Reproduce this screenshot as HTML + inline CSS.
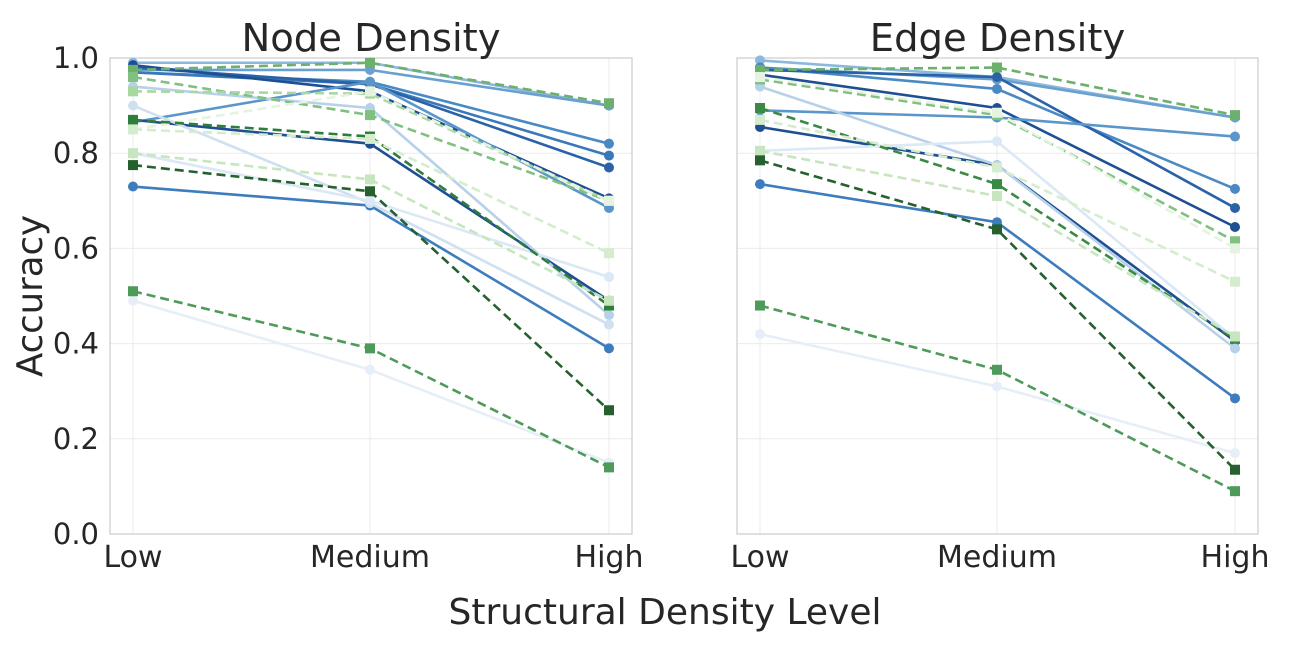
<!DOCTYPE html>
<html><head><meta charset="utf-8"><style>
body{margin:0;background:#fff;}
svg text{font-family:"DejaVu Sans","Liberation Sans",sans-serif;fill:#262626;}
</style></head><body>
<svg id="s" width="1292" height="656" xmlns="http://www.w3.org/2000/svg"></svg>
<script>
const S=document.getElementById('s');
let h='';
const Y=v=>534-476*v;
const panels=[{x0:110,x1:632,xs:[133,370,609],title:'Node Density'},{x0:737,x1:1258,xs:[760,997,1235],title:'Edge Density'}];
const L=[
 ['#8cb8de',[0.99,0.99,0.90]],['#6aa0cf',[0.975,0.975,0.90]],['#4a8ac4',[0.97,0.95,0.82]],
 ['#3a78b9',[0.97,0.945,0.795]],['#2a62a8',[0.98,0.945,0.77]],['#1f4f93',[0.985,0.93,0.705]],
 ['#5b96cb',[0.865,0.95,0.685]],['#1f4f93',[0.87,0.82,0.49]],['#3d7cbd',[0.73,0.69,0.39]],
 ['#b7d1ea',[0.94,0.895,0.46]],['#cfe0f1',[0.90,0.695,0.44]],['#dbe8f5',[0.80,0.70,0.54]],
 ['#e6eff8',[0.49,0.345,0.15]]
];
const G=[
 ['#6bb06b',[0.975,0.99,0.905]],['#80c080',[0.96,0.88,0.70]],['#a8d8a0',[0.93,0.925,0.70]],
 ['#e5f3e0',[0.85,0.93,0.70]],['#2e7d3a',[0.87,0.835,0.48]],['#c7e6bf',[0.80,0.745,0.49]],
 ['#d5ecce',[0.85,0.83,0.59]],['#25602e',[0.775,0.72,0.26]],['#4e9a5a',[0.51,0.39,0.14]]
];
const L2=[
 ['#8cb8de',[0.995,0.96,0.875]],['#6aa0cf',[0.98,0.955,0.875]],['#4a8ac4',[0.98,0.935,0.725]],
 ['#2a62a8',[0.975,0.96,0.685]],['#1f4f93',[0.965,0.895,0.645]],['#5b96cb',[0.89,0.875,0.835]],
 ['#1f4f93',[0.855,0.775,0.405]],['#3d7cbd',[0.735,0.655,0.285]],['#b7d1ea',[0.94,0.775,0.39]],
 ['#dbe8f5',[0.805,0.825,0.41]],['#e6eff8',[0.42,0.31,0.17]]
];
const G2=[
 ['#6bb06b',[0.975,0.98,0.88]],['#80c080',[0.955,0.88,0.615]],['#e5f3e0',[0.96,0.885,0.60]],
 ['#3a8a45',[0.895,0.735,0.41]],['#d5ecce',[0.87,0.77,0.53]],['#c7e6bf',[0.805,0.71,0.415]],
 ['#25602e',[0.785,0.64,0.135]],['#4e9a5a',[0.48,0.345,0.09]]
];
panels.forEach((p,i)=>{
 [0,0.2,0.4,0.6,0.8,1].forEach(v=>{h+=`<line x1="${p.x0}" x2="${p.x1}" y1="${Y(v)}" y2="${Y(v)}" stroke="#ebebeb" stroke-width="1"/>`;});
 p.xs.forEach(x=>{h+=`<line x1="${x}" x2="${x}" y1="${Y(1)}" y2="534" stroke="#ebebeb"/>`;});
 h+=`<rect x="${p.x0}" y="${Y(1)}" width="${p.x1-p.x0}" height="${534-Y(1)}" fill="none" stroke="#cccccc" stroke-width="1.2"/>`;
 const bl=i?L2:L, gl=i?G2:G;
 bl.forEach(([c,d])=>{
  h+=`<polyline fill="none" stroke="${c}" stroke-width="2.6" points="${d.map((v,k)=>p.xs[k]+','+Y(v)).join(' ')}"/>`;
  d.forEach((v,k)=>{h+=`<circle cx="${p.xs[k]}" cy="${Y(v)}" r="5" fill="${c}"/>`;});
 });
 gl.forEach(([c,d])=>{
  h+=`<polyline fill="none" stroke="${c}" stroke-width="2.6" stroke-dasharray="9,5" points="${d.map((v,k)=>p.xs[k]+','+Y(v)).join(' ')}"/>`;
  d.forEach((v,k)=>{h+=`<rect x="${p.xs[k]-5}" y="${Y(v)-5}" width="10" height="10" fill="${c}"/>`;});
 });
 h+=`<text x="${(p.x0+p.x1)/2}" y="51" font-size="38.5" text-anchor="middle">${p.title}</text>`;
 ['Low','Medium','High'].forEach((t,k)=>{h+=`<text x="${p.xs[k]}" y="567" font-size="30" text-anchor="middle">${t}</text>`;});
});
[0,0.2,0.4,0.6,0.8,1].forEach(v=>{h+=`<text x="99" y="${Y(v)+10}" font-size="29" text-anchor="end">${v.toFixed(1)}</text>`;});
h+=`<text x="665" y="624" font-size="36" text-anchor="middle">Structural Density Level</text>`;
h+=`<text transform="translate(42,296) rotate(-90)" font-size="35.5" text-anchor="middle">Accuracy</text>`;
S.innerHTML=h;
</script>
</body></html>
